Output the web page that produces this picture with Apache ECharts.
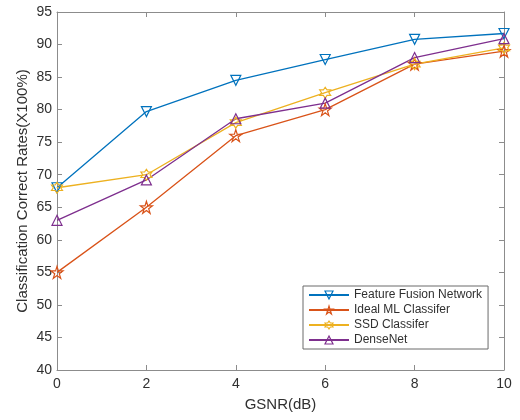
<!DOCTYPE html>
<html>
<head>
<meta charset="utf-8">
<script src="https://cdn.jsdelivr.net/npm/echarts@6/dist/echarts.min.js"></script>
<style>
  html, body { margin: 0; padding: 0; background: #fff; }
  #chart { width: 520px; height: 420px; }
</style>
</head>
<body>
<div id="chart"></div>
<script>
// GSNR values (dB) on the x axis
const gsnr = [0, 2, 4, 6, 8, 10];

// Classification correct rates per method
const featureFusion = [68, 79.7, 84.5, 87.7, 90.8, 91.7];
const idealML = [55, 65, 76, 80, 87, 89];
const ssdClassifier = [68, 70, 78, 82.6, 87, 89.5];
const denseNet = [63, 69.2, 78.6, 81, 88, 90.9];

const seriesNames = ['Feature Fusion Network', 'Ideal ML Classifer', 'SSD Classifer', 'DenseNet'];
const seriesColors = ['#0072BD', '#D95319', '#EDB120', '#7E2F8E'];

const yTicks = { min: 40, max: 95, step: 5 };
const xTicks = { min: 0, max: 10, step: 2 };

// Star-shaped symbol outlines built from alternating outer/inner radii
function starPath(points, inner) {
  const pts = [];
  for (let i = 0; i < points * 2; i++) {
    const r = i % 2 === 0 ? 1 : inner;
    const a = -Math.PI / 2 + i * Math.PI / points;
    pts.push((r * Math.cos(a)).toFixed(3) + ' ' + (r * Math.sin(a)).toFixed(3));
  }
  return 'path://M' + pts.join(' L') + ' Z';
}
const pentagram = starPath(5, 0.38);
const hexagram = starPath(6, 0.577);

function pairs(vals) {
  return gsnr.map((x, i) => [x, vals[i]]);
}

function hollow(color) {
  return { color: 'rgba(255,255,255,0)', borderColor: color, borderWidth: 1.2 };
}

function makeSeries(name, color, vals, symbol, size, rotate) {
  return {
    name: name,
    type: 'line',
    data: pairs(vals),
    color: color,
    symbol: symbol,
    symbolSize: size,
    symbolRotate: rotate || 0,
    showAllSymbol: true,
    lineStyle: { color: color, width: 1.3 },
    itemStyle: hollow(color),
    emphasis: { disabled: true },
    animation: false,
    z: 3
  };
}

const axisLineColor = '#8c8c8c';
const labelColor = '#303030';
const fontFamily = '"Liberation Sans", Arial, Helvetica, sans-serif';

function valueAxis(base, extra) {
  return Object.assign({
    type: 'value',
    min: base.min,
    max: base.max,
    interval: base.step,
    axisLine: { show: true, onZero: false, lineStyle: { color: axisLineColor, width: 1 } },
    axisTick: { show: true, inside: true, length: 5, lineStyle: { color: axisLineColor } },
    splitLine: { show: false },
    axisLabel: { color: labelColor, fontSize: 14, fontFamily: fontFamily }
  }, extra);
}

const chart = echarts.init(document.getElementById('chart'), null, { renderer: 'canvas' });
chart.setOption({
  backgroundColor: '#ffffff',
  animation: false,
  textStyle: { fontFamily: fontFamily },
  grid: { left: 57, right: 16, top: 12, bottom: 50, containLabel: false },
  xAxis: [
    valueAxis(xTicks, {
      position: 'bottom',
      name: 'GSNR(dB)',
      nameLocation: 'middle',
      nameGap: 27,
      nameMoveOverlap: false,
      nameTextStyle: { color: labelColor, fontSize: 15, fontFamily: fontFamily },
      axisLabel: { color: labelColor, fontSize: 14, margin: 7, fontFamily: fontFamily }
    }),
    valueAxis(xTicks, { position: 'top', axisLabel: { show: false } })
  ],
  yAxis: [
    valueAxis(yTicks, {
      position: 'left',
      name: 'Classification Correct Rates(X100%)',
      nameLocation: 'middle',
      nameGap: 27,
      nameMoveOverlap: false,
      nameTextStyle: { color: labelColor, fontSize: 15, fontFamily: fontFamily },
      axisLabel: { color: labelColor, fontSize: 14, margin: 5, fontFamily: fontFamily }
    }),
    valueAxis(yTicks, { position: 'right', axisLabel: { show: false } })
  ],
  legend: {
    orient: 'vertical',
    left: 303,
    top: 286,
    data: seriesNames.map((n, i) => ({ name: n, itemStyle: hollow(seriesColors[i]) })),
    itemWidth: 40,
    itemHeight: 10,
    itemGap: 3,
    itemTextGap: 5,
    padding: [3, 6, 3, 5],
    borderColor: '#6a6a6a',
    borderWidth: 1,
    backgroundColor: '#ffffff',
    selectedMode: false,
    textStyle: { color: labelColor, fontSize: 12, fontFamily: fontFamily }
  },
  series: [
    makeSeries(seriesNames[0], seriesColors[0], featureFusion, 'triangle', 10, 180),
    makeSeries(seriesNames[1], seriesColors[1], idealML, pentagram, 12),
    makeSeries(seriesNames[2], seriesColors[2], ssdClassifier, hexagram, 11),
    makeSeries(seriesNames[3], seriesColors[3], denseNet, 'triangle', 10)
  ]
});
</script>
</body>
</html>
